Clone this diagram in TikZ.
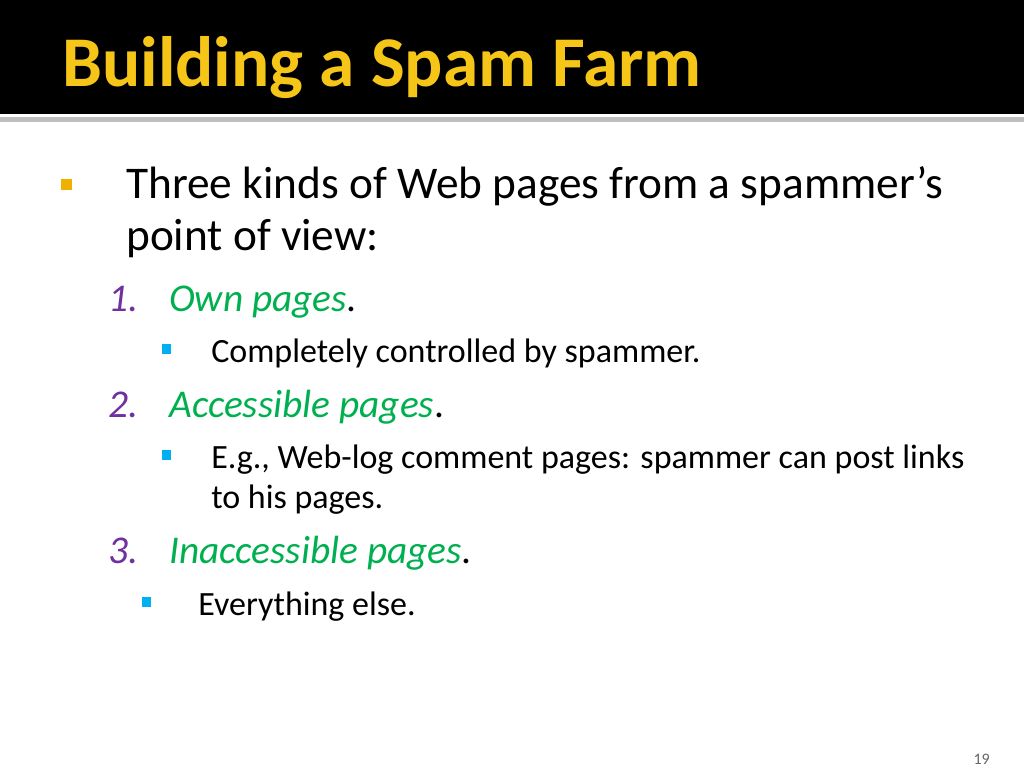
\documentclass[tikz,border=0pt]{standalone}
\usepackage{fontspec}
\setmainfont{Carlito}
\definecolor{titlegold}{HTML}{F5C518}
\definecolor{numpurple}{HTML}{7030A0}
\definecolor{itemgreen}{HTML}{00B050}
\definecolor{bulletgold}{HTML}{F0B000}
\definecolor{bulletcyan}{HTML}{00B0F0}
\begin{document}
\begin{tikzpicture}[x=0.75pt,y=-0.75pt,
	txt/.style={anchor=base west,inner sep=0pt,font=\fontsize{34}{40}\selectfont},
	subtxt/.style={anchor=base west,inner sep=0pt,font=\fontsize{25.5}{30}\selectfont},
	numtxt/.style={anchor=base west,inner sep=0pt,font=\fontsize{29.5}{35}\selectfont\itshape}]
	%background and title bar
	\useasboundingbox (0,0) rectangle (1024,768);
	\fill[white] (0,0) rectangle (1024,768);
	\fill[black] (0,0) rectangle (1024,114);
	\fill[black!25] (0,117) rectangle (1024,122);
	\node[anchor=base west,inner sep=0pt,text=titlegold,font=\fontsize{53.5}{60}\selectfont\bfseries] (title) at (62,86) {Building a Spam Farm};

	%main bullet
	\fill[bulletgold] (61,179) rectangle (72,190);
	\node[txt] (main1) at (126,198) {Three kinds of Web pages from a spammer’s};
	\node[txt] (main2) at (126,250) {point of view:};

	%numbered items
	\node[numtxt,text=numpurple] (n1) at (108,311) {1.};
	\node[numtxt] (own) at (169,311) {\textcolor{itemgreen}{Own pages}\upshape.};
	\fill[bulletcyan] (162,344) rectangle (171,354);
	\node[subtxt] (own1) at (211,362) {Completely controlled by spammer.};

	\node[numtxt,text=numpurple] (n2) at (108,417) {2.};
	\node[numtxt] (acc) at (169,417) {\textcolor{itemgreen}{Accessible pages}\upshape.};
	\fill[bulletcyan] (162,450) rectangle (171,460);
	\node[subtxt] (acc1) at (211,468) {E.g., Web-log comment pages: spammer can post links};
	\node[subtxt] (acc2) at (211,508) {to his pages.};

	\node[numtxt,text=numpurple] (n3) at (108,563) {3.};
	\node[numtxt] (inacc) at (169,563) {\textcolor{itemgreen}{Inaccessible pages}\upshape.};
	\fill[bulletcyan] (142,597) rectangle (151,607);
	\node[subtxt] (inacc1) at (198,615) {Everything else.};

	%page number
	\node[anchor=base east,inner sep=0pt,text=black!60,font=\fontsize{12}{14}\selectfont] (page) at (990,764) {19};
\end{tikzpicture}
\end{document}
